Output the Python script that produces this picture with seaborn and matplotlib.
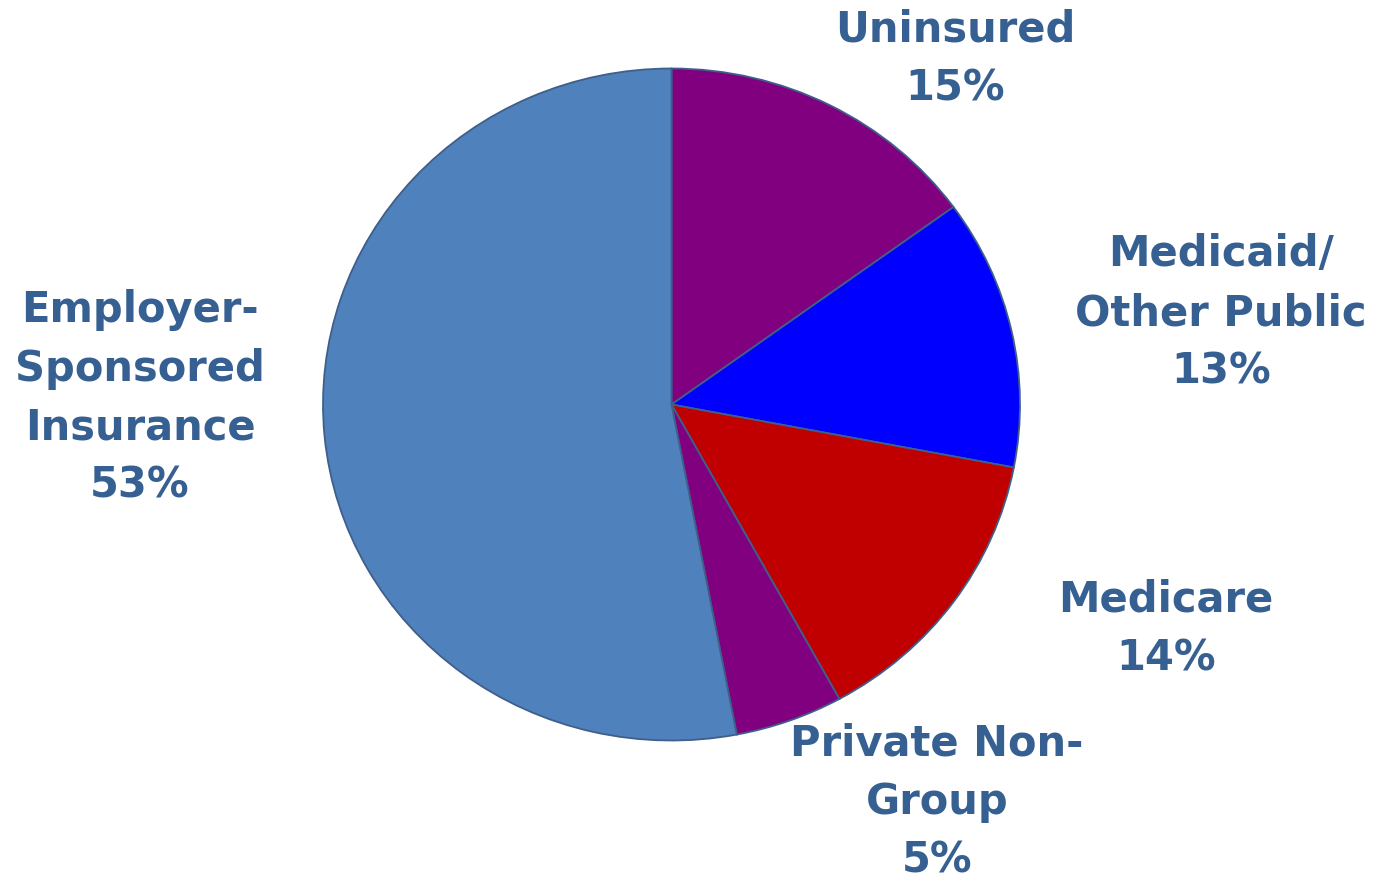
import matplotlib
matplotlib.use("Agg")
import matplotlib.pyplot as plt
import seaborn as sns

sns.set_theme(style="white")
plt.rcParams['font.family'] = ['DejaVu Sans']

categories = ["Uninsured", "Medicaid/\nOther Public", "Medicare", "Private Non-\nGroup", "Employer-\nSponsored\nInsurance"]
values = [15, 13, 14, 5, 53]
colors = ["#800080", "#0000FF", "#C00000", "#800080", "#4F81BD"]

W, H = 1377, 878
fig = plt.figure(figsize=(W / 100, H / 100), dpi=100)
ax = fig.add_axes([0, 0, 1, 1])

# pixel geometry: x scale 1, y scaled so circle appears slightly flattened
rx, ry = 348.5, 336.0
sy = rx / ry
cx, cy = 671.5, 405.5

ax.pie(values, colors=colors, startangle=90, counterclock=False,
       center=(cx, (H - cy) * sy), radius=rx,
       wedgeprops=dict(edgecolor="#3F5F8A", linewidth=1.3))
ax.set_xlim(0, W)
ax.set_ylim(0, H * sy)
ax.set_aspect('auto')
ax.axis('off')

label_pos = [(955, 59), (1221, 313), (1166, 629), (937, 802), (140, 398)]
txtcolor = "#376092"
for cat, v, (x, y) in zip(categories, values, label_pos):
    fig.text(x / W, 1 - y / H, f"{cat}\n{v}%", ha="center", va="center",
             fontsize=30, fontweight="bold", color=txtcolor,
             linespacing=1.5)

fig.savefig("out.png", dpi=100)
